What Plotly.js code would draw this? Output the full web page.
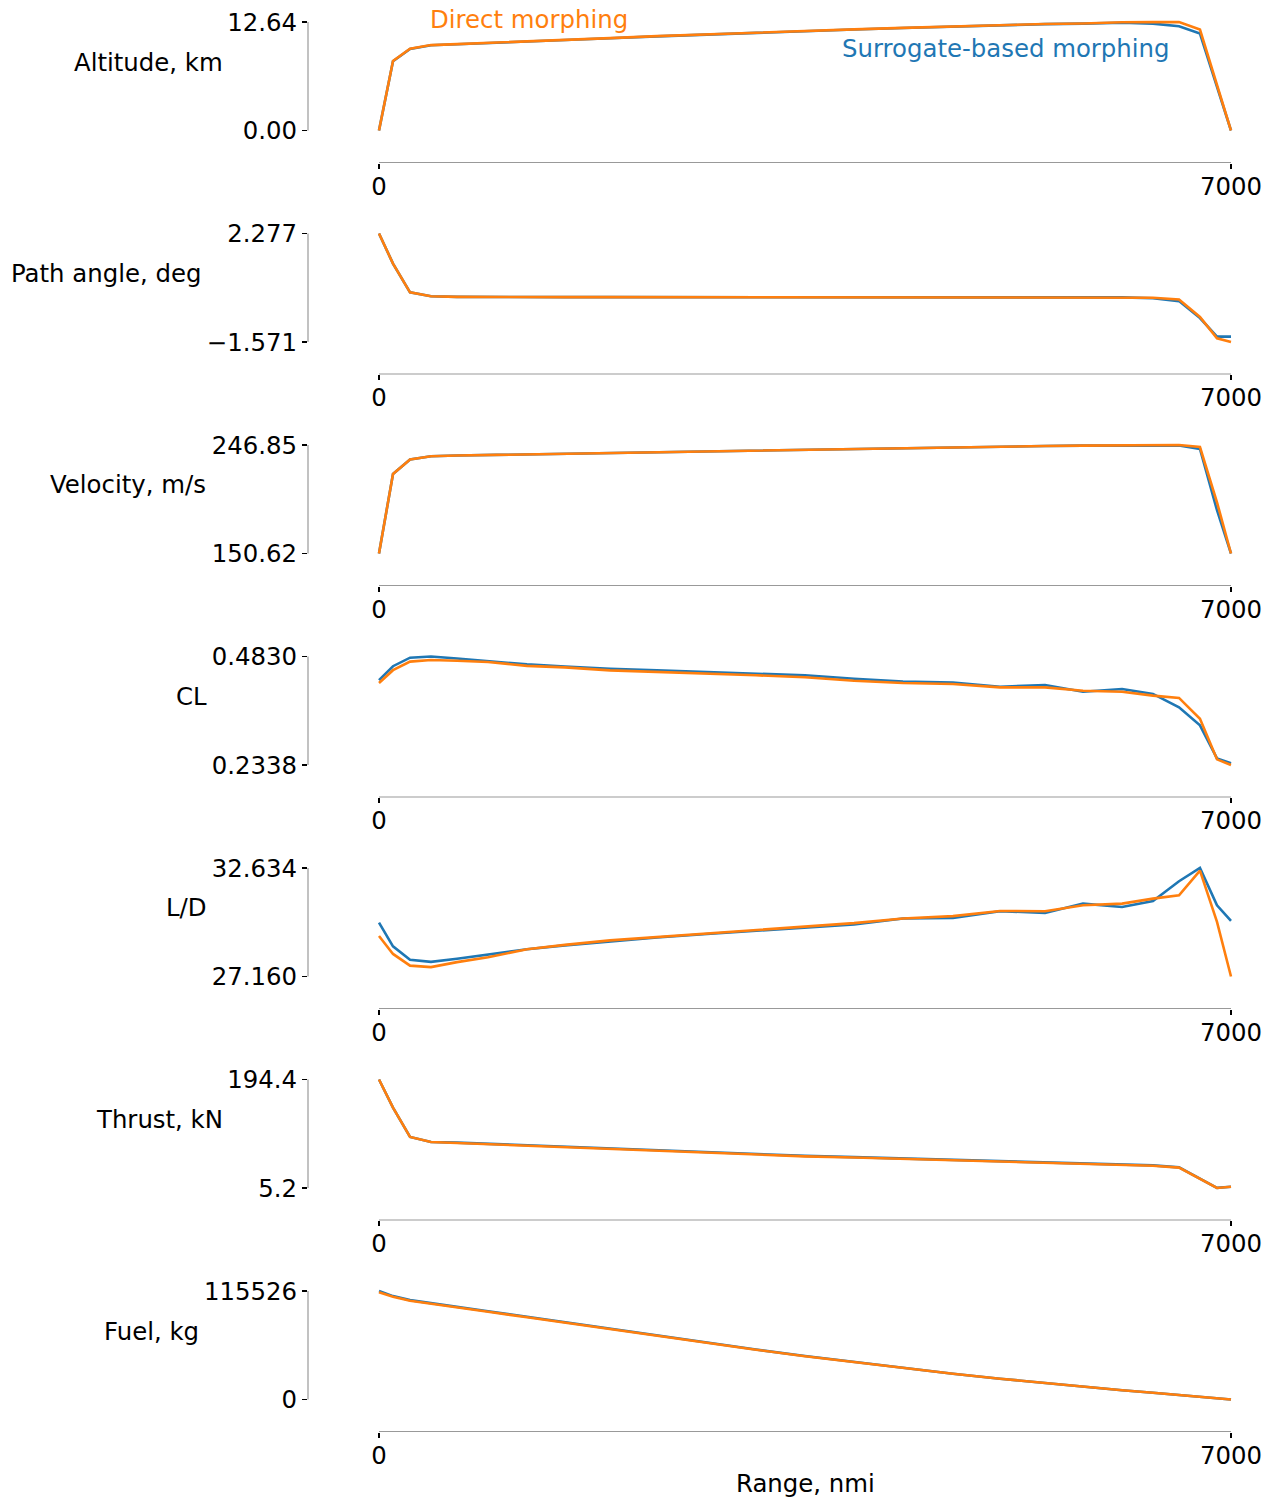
<!DOCTYPE html>
<html>
<head>
<meta charset="utf-8">
<script src="https://cdn.plot.ly/plotly-3.0.1.min.js"></script>
<style>html,body{margin:0;padding:0;background:#fff;}#chart{width:1274px;height:1500px;}</style>
</head>
<body>
<div id="chart"></div>
<script>
// ---- data ----
const range_nmi = [0,115,255,427,641,896,1216,1528,1898,2284,2695,3097,3500,3903,4305,4716,5102,5472,5784,6105,6359,6573,6745,6885,7000];

const altitude_surrogate = [0,8.08,9.50,9.93,10.04,10.17,10.34,10.52,10.74,10.97,11.19,11.39,11.56,11.76,11.94,12.12,12.26,12.39,12.45,12.55,12.45,12.14,11.30,5.00,0];
const altitude_direct    = [0,8.10,9.52,9.95,10.06,10.19,10.36,10.54,10.76,10.99,11.21,11.41,11.58,11.78,11.96,12.14,12.28,12.41,12.47,12.61,12.62,12.64,11.76,5.32,0];

const path_angle_surrogate = [2.277,1.21,0.19,0.05,0.03,0.02,0.02,0.02,0.02,0.02,0.02,0.02,0.02,0.02,0.02,0.02,0.02,0.02,0.02,0.01,-0.02,-0.12,-0.72,-1.38,-1.38];
const path_angle_direct    = [2.277,1.21,0.19,0.05,0.03,0.02,0.02,0.02,0.02,0.02,0.02,0.02,0.02,0.02,0.02,0.02,0.02,0.02,0.02,0.02,0.00,-0.06,-0.68,-1.44,-1.571];

const velocity_surrogate = [150.62,221.13,233.99,236.83,237.54,237.98,238.60,239.13,239.84,240.64,241.53,242.33,243.12,243.83,244.46,245.08,245.52,245.96,246.32,246.58,246.60,246.41,243.30,189.00,150.62];
const velocity_direct    = [150.62,221.13,233.99,236.83,237.54,237.98,238.60,239.13,239.84,240.64,241.53,242.33,243.12,243.83,244.46,245.08,245.52,245.96,246.32,246.58,246.76,246.85,245.08,196.00,150.62];

const cl_surrogate = [0.4288,0.4607,0.4803,0.4830,0.4784,0.4728,0.4648,0.4602,0.4546,0.4511,0.4477,0.4443,0.4398,0.4318,0.4257,0.4234,0.4136,0.4175,0.4022,0.4084,0.3970,0.3665,0.3248,0.2490,0.2377];
const cl_direct    = [0.4220,0.4516,0.4712,0.4750,0.4732,0.4705,0.4614,0.4580,0.4511,0.4477,0.4443,0.4398,0.4352,0.4272,0.4220,0.4197,0.4120,0.4120,0.4045,0.4022,0.3931,0.3879,0.3401,0.2468,0.2338];

const ld_surrogate = [29.880,28.682,28.008,27.898,28.058,28.258,28.532,28.732,28.931,29.131,29.306,29.455,29.605,29.780,30.089,30.119,30.453,30.369,30.838,30.668,30.967,31.965,32.634,30.753,29.969];
const ld_direct    = [29.206,28.298,27.709,27.634,27.884,28.133,28.532,28.757,28.981,29.156,29.331,29.505,29.680,29.855,30.089,30.204,30.468,30.453,30.753,30.838,31.087,31.252,32.499,29.919,27.160];

const thrust_surrogate = [194.4,145.5,94.2,85.5,84.4,82.3,79.2,76.7,73.9,70.8,67.6,64.3,61.2,59.1,56.8,54.2,51.4,49.8,48.2,46.4,44.6,41.2,21.1,5.4,7.3];
const thrust_direct    = [194.4,145.5,94.2,85.5,83.6,81.5,78.4,75.9,73.1,70.0,66.8,63.5,60.4,58.3,56.0,53.4,50.6,49.0,47.5,45.7,44.0,40.8,21.1,5.2,7.3];

const fuel_surrogate = [115526,110100,105800,102800,98800,94000,88100,82200,75200,68200,60700,53200,46250,39800,33400,27500,22150,17350,13620,9893,7234,4787,2766,1170,0];
const fuel_direct    = [114145,109360,105103,102125,98189,93402,87551,81700,74785,67870,60424,52977,46063,39680,33297,27446,22127,17340,13617,9893,7234,4787,2766,1170,0];

const y_labels = ["Altitude, km","Path angle, deg","Velocity, m/s","CL","L/D","Thrust, kN","Fuel, kg"];
const y_tick_min = [0, -1.571, 150.62, 0.2338, 27.160, 5.2, 0];
const y_tick_max = [12.64, 2.277, 246.85, 0.4830, 32.634, 194.4, 115526];
const y_ticktext_min = ["0.00","\u22121.571","150.62","0.2338","27.160","5.2","0"];
const y_ticktext_max = ["12.64","2.277","246.85","0.4830","32.634","194.4","115526"];
const x_tickvals = [0, 7000];
const x_ticktext = ["0", "7000"];
const series_names = ["Surrogate-based morphing","Direct morphing"];
const x_title = "Range, nmi";

const surrogate = [altitude_surrogate,path_angle_surrogate,velocity_surrogate,cl_surrogate,ld_surrogate,thrust_surrogate,fuel_surrogate];
const direct    = [altitude_direct,path_angle_direct,velocity_direct,cl_direct,ld_direct,thrust_direct,fuel_direct];

// ---- layout ----
const W = 1274, H = 1500;
const BLUE = '#1f77b4', ORANGE = '#ff7f0e';
const FONT = 'DejaVu Sans, sans-serif';
const FS = 24.4;
const step = 211.5;
const label_px = [[148,62],[106,273.5],[128,485],[192,696.5],[186,908],[159,1119.5],[151,1331]];

const xPx0 = 379, xPx1 = 1231, spinePx = 308, rightPx = 1240;
const pxPerUnit = (xPx1 - xPx0) / 7000;
const xRange = [-(xPx0 - spinePx) / pxPerUnit, 7000 + (rightPx - xPx1) / pxPerUnit];

const traces = [];
const layout = {
  width: W, height: H,
  margin: {l: 0, r: 0, t: 0, b: 0},
  paper_bgcolor: '#fff', plot_bgcolor: '#fff',
  showlegend: false,
  font: {family: FONT, size: FS, color: '#000'},
  shapes: [], annotations: []
};

for (let k = 0; k < 7; k++) {
  const sfx = k === 0 ? '' : String(k + 1);
  const xa = 'x' + sfx, ya = 'y' + sfx;
  const topPx = 17 + step * k, maxPx = 22 + step * k, minPx = 130.5 + step * k, botPx = 162.5 + step * k;
  const lo = y_tick_min[k], hi = y_tick_max[k], d = hi - lo;
  const perPx = d / (minPx - maxPx);
  const yr = [lo - (botPx - minPx) * perPx, hi + (maxPx - topPx) * perPx];

  traces.push({x: range_nmi, y: surrogate[k], xaxis: xa, yaxis: ya, type: 'scatter', mode: 'lines',
    name: series_names[0], line: {color: BLUE, width: 2.6}, hoverinfo: 'skip'});
  traces.push({x: range_nmi, y: direct[k], xaxis: xa, yaxis: ya, type: 'scatter', mode: 'lines',
    name: series_names[1], line: {color: ORANGE, width: 2.6}, hoverinfo: 'skip'});

  layout['xaxis' + sfx] = {
    domain: [spinePx / W, rightPx / W], range: xRange, anchor: ya,
    tickmode: 'array', tickvals: x_tickvals, ticktext: x_ticktext,
    ticks: 'outside', ticklen: 5, tickwidth: 1.2, tickcolor: '#000',
    ticklabelstandoff: -3,
    showline: false, showgrid: false, zeroline: false,
    tickfont: {family: FONT, size: FS, color: '#000'}, fixedrange: true
  };
  layout['yaxis' + sfx] = {
    domain: [1 - botPx / H, 1 - topPx / H], range: yr, anchor: xa,
    tickmode: 'array', tickvals: [lo, hi], ticktext: [y_ticktext_min[k], y_ticktext_max[k]],
    ticks: 'outside', ticklen: 5, tickwidth: 1.2, tickcolor: '#000',
    showline: false, showgrid: false, zeroline: false,
    tickfont: {family: FONT, size: FS, color: '#000'}, fixedrange: true
  };
  // bounded left spine
  layout.shapes.push({type: 'line', xref: 'paper', yref: ya, x0: spinePx / W, x1: spinePx / W, y0: lo, y1: hi,
    line: {color: '#999', width: 1.2}});
  // bounded bottom spine
  layout.shapes.push({type: 'line', xref: xa, yref: ya + ' domain', x0: 0, x1: 7000, y0: 0, y1: 0,
    line: {color: '#999', width: 1.2}});
  // y label
  layout.annotations.push({text: y_labels[k], xref: 'paper', yref: 'paper',
    x: label_px[k][0] / W, y: 1 - label_px[k][1] / H, xanchor: 'center', yanchor: 'middle',
    showarrow: false, font: {family: FONT, size: FS, color: '#000'}});
}

layout.annotations.push({text: series_names[1], xref: 'paper', yref: 'paper', x: 529 / W, y: 1 - 19 / H,
  xanchor: 'center', yanchor: 'middle', showarrow: false, font: {family: FONT, size: FS, color: ORANGE}});
layout.annotations.push({text: series_names[0], xref: 'paper', yref: 'paper', x: 1006 / W, y: 1 - 49 / H,
  xanchor: 'center', yanchor: 'middle', showarrow: false, font: {family: FONT, size: FS, color: BLUE}});
layout.annotations.push({text: x_title, xref: 'x7', yref: 'paper', x: 3500, y: 1 - 1483 / H,
  xanchor: 'center', yanchor: 'middle', showarrow: false, font: {family: FONT, size: FS, color: '#000'}});

Plotly.newPlot('chart', traces, layout, {staticPlot: true, displayModeBar: false});
</script>
</body>
</html>
